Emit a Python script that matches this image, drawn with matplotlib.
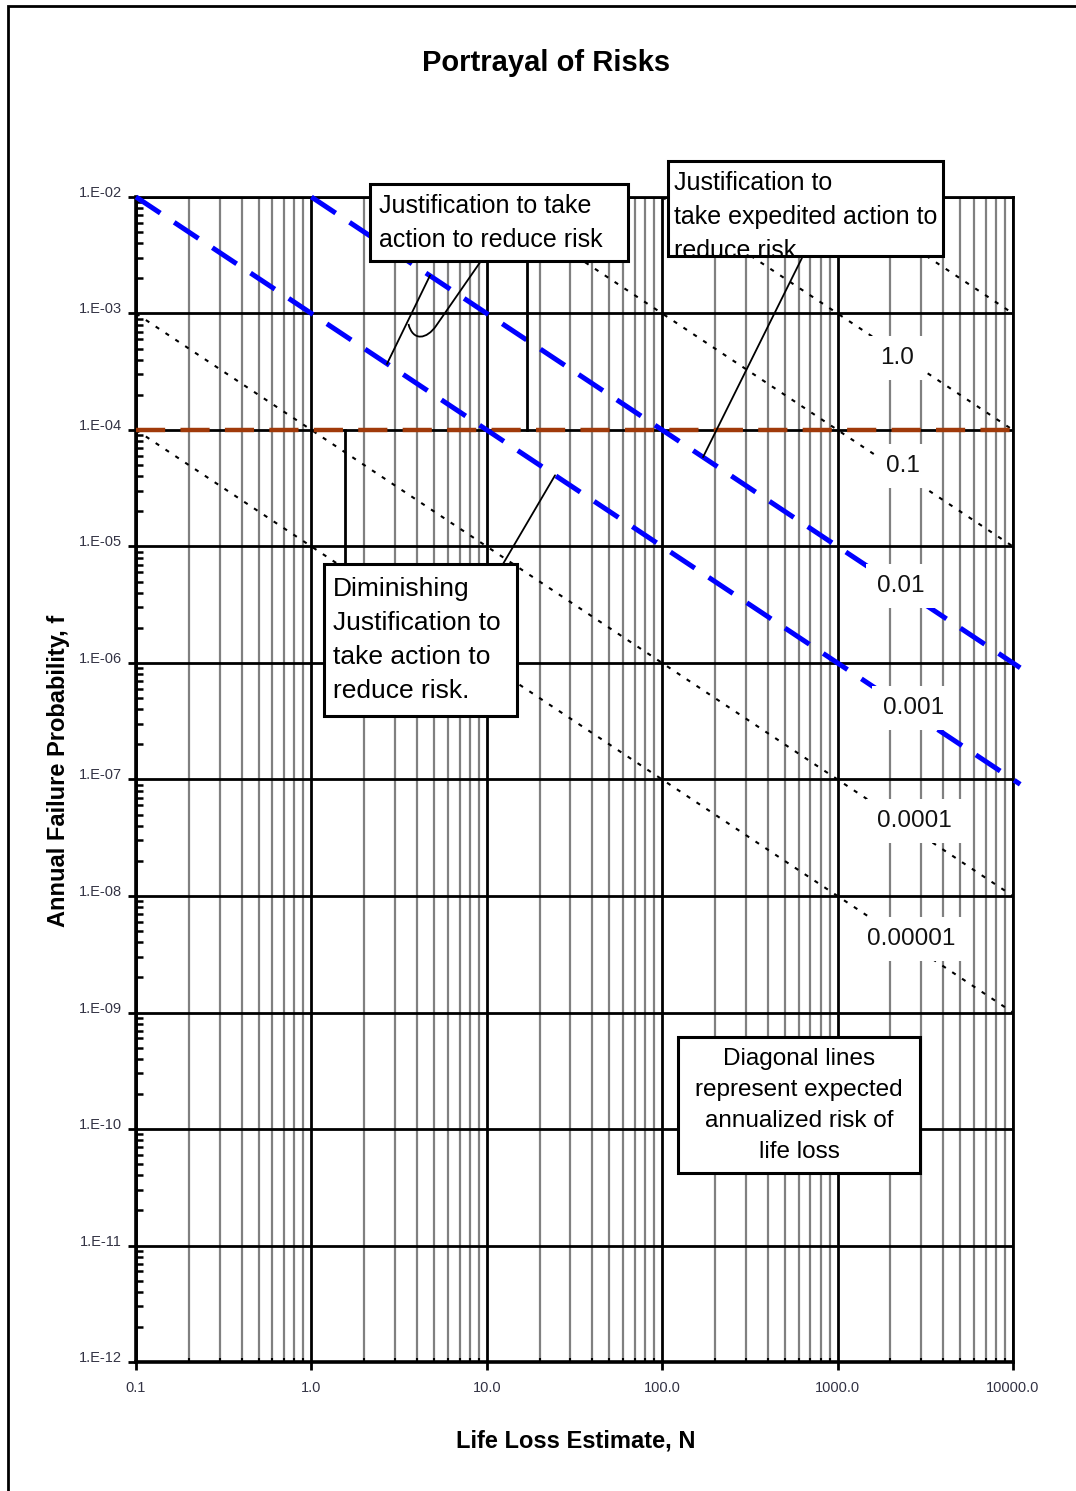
import matplotlib
matplotlib.use("Agg")
import matplotlib.pyplot as plt
from matplotlib.patches import Rectangle, PathPatch
from matplotlib.path import Path
from matplotlib.ticker import LogLocator, FixedLocator, FixedFormatter, NullFormatter
import numpy as np

plt.rcParams['font.family'] = ['Liberation Sans', 'DejaVu Sans']
plt.rcParams['lines.scale_dashes'] = False

# axis ticks
x_ticks = [0.1, 1, 10, 100, 1000, 10000]
x_tick_labels = ['0.1', '1.0', '10.0', '100.0', '1000.0', '10000.0']
y_ticks = [1e-12, 1e-11, 1e-10, 1e-9, 1e-8, 1e-7, 1e-6, 1e-5, 1e-4, 1e-3, 1e-2]
y_tick_labels = ['1.E-12', '1.E-11', '1.E-10', '1.E-09', '1.E-08', '1.E-07',
                 '1.E-06', '1.E-05', '1.E-04', '1.E-03', '1.E-02']

# expected annualized risk (f * N) lines
dotted_risks = [10.0, 1.0, 0.1, 0.0001, 0.00001]
blue_risks = [0.01, 0.001]
guideline_f = 1e-4

# labels of the risk lines and where they sit (N, f)
risk_label_text = ['1.0', '0.1', '0.01', '0.001', '0.0001', '0.00001']
risk_label_N = [2182, 2364, 2301, 2727, 2727, 2621]
risk_label_f = [4.15e-4, 4.91e-5, 4.58e-6, 4.11e-7, 4.40e-8, 4.28e-9]

x_min, x_max, x_ext = 0.1, 10000, 11000
y_min, y_max = 1e-12, 1e-2

fig = plt.figure(figsize=(10.76, 14.91), dpi=100)
ax = fig.add_axes([0.1264, 0.0865, 0.8150, 0.7814])
ax.set_xscale('log')
ax.set_yscale('log')
ax.set_xlim(x_min, x_max)
ax.set_ylim(y_min, y_max)

# grid
ax.xaxis.set_major_locator(FixedLocator(x_ticks))
ax.xaxis.set_major_formatter(FixedFormatter(x_tick_labels))
ax.xaxis.set_minor_locator(LogLocator(base=10, subs=np.arange(2, 10), numticks=20))
ax.xaxis.set_minor_formatter(NullFormatter())
ax.yaxis.set_major_locator(FixedLocator(y_ticks))
ax.yaxis.set_major_formatter(FixedFormatter(y_tick_labels))
ax.yaxis.set_minor_locator(LogLocator(base=10, subs=np.arange(2, 10), numticks=20))
ax.yaxis.set_minor_formatter(NullFormatter())

ax.set_axisbelow(True)
ax.grid(True, which='major', axis='both', color='black', lw=2.0)
ax.grid(True, which='minor', axis='x', color='#808080', lw=1.6)

ax.tick_params(which='major', direction='out', length=6, width=2, labelsize=10.5,
               labelcolor='#333344')
ax.tick_params(axis='y', which='major', pad=4)
ax.tick_params(axis='x', which='major', pad=8)
ax.tick_params(axis='y', which='minor', direction='in', length=5, width=1.8)
ax.tick_params(axis='x', which='minor', direction='in', length=3, width=1.5)
for lab in ax.get_yticklabels():
    lab.set_verticalalignment('baseline')

for side in ['left', 'bottom']:
    ax.spines[side].set_linewidth(2.6)
for side in ['top', 'right']:
    ax.spines[side].set_linewidth(2.0)

# dotted risk lines
for r in dotted_risks:
    n = np.array([max(x_min, r / y_max), x_max])
    ax.plot(n, r / n, color='black', lw=1.5, dashes=(3, 5.5), zorder=2)

# horizontal guideline at f = 1e-4
ax.plot([x_min, x_ext], [guideline_f, guideline_f], color='#a03a0a', lw=3.2,
        dashes=(21, 11), zorder=3, clip_on=False, solid_capstyle='butt')

# blue risk lines
for r in blue_risks:
    n = np.array([max(x_min, r / y_max), x_ext])
    ax.plot(n, r / n, color='#0000ff', lw=3.6, dashes=(21, 12), zorder=4, clip_on=False)

# labels on risk lines
for txt, n, f in zip(risk_label_text, risk_label_N, risk_label_f):
    ax.text(n, f, txt, fontsize=17.5, color='#111111', ha='center', va='center',
            zorder=6, bbox=dict(boxstyle='square,pad=0.45', fc='white', ec='none'))

# leader lines
line_kw = dict(color='black', lw=1.3, zorder=7)
# bracket between the two blue lines
bracket_N = [2.7, 4.74]
ax.plot(bracket_N, [blue_risks[1] / bracket_N[0], blue_risks[0] / bracket_N[1]],
        **line_kw)
# hooked callout from the first box onto the bracket
hook = Path([(0.3942, 0.9459), (0.3421, 0.8893), (0.3318, 0.8781), (0.3158, 0.8755),
             (0.3107, 0.8910)],
            [Path.MOVETO, Path.LINETO, Path.CURVE4, Path.CURVE4, Path.CURVE4])
ax.add_patch(PathPatch(hook, transform=ax.transAxes, fill=False, ec='black', lw=1.3,
                       zorder=7))

# vertical connectors to the 1e-4 guideline
ax.plot([0.4458, 0.4458], [0.9451, 0.8000], transform=ax.transAxes, color='black',
        lw=2.0, zorder=7)
ax.plot([0.2383, 0.2383], [0.8000, 0.6850], transform=ax.transAxes, color='black',
        lw=2.0, zorder=7)

arrow_kw = dict(arrowstyle='-', color='black', lw=1.3, shrinkA=0, shrinkB=0)
ax.annotate('', xy=(171, blue_risks[0] / 171), xycoords='data',
            xytext=(0.7594, 0.9476), textcoords='axes fraction', arrowprops=arrow_kw,
            zorder=7)
ax.annotate('', xy=(24.5, blue_risks[1] / 24.5), xycoords='data',
            xytext=(0.4185, 0.6850), textcoords='axes fraction', arrowprops=arrow_kw,
            zorder=7)


def text_box(x0, y0, w, h, tx, ty, text, size, ha='left'):
    face = Rectangle((x0, y0), w, h, transform=ax.transAxes, fc='white', ec='none',
                     zorder=8, clip_on=False)
    ax.add_patch(face)
    t = ax.text(tx, ty, text, transform=ax.transAxes, fontsize=size, ha=ha, va='center',
                multialignment=ha, linespacing=1.52, color='black', zorder=9)
    t.set_clip_path(face)
    edge = Rectangle((x0, y0), w, h, transform=ax.transAxes, fill=False, ec='black',
                     lw=2.2, zorder=10, clip_on=False)
    ax.add_patch(edge)


text_box(0.2668, 0.9451, 0.2942, 0.0661, 0.2771, 0.9780,
         'Justification to take\naction to reduce risk', 18)
text_box(0.6066, 0.9494, 0.3136, 0.0815, 0.6135, 0.9825,
         'Justification to\ntake expedited action to\nreduce risk', 18)
text_box(0.2144, 0.5545, 0.2200, 0.1305, 0.2246, 0.6195,
         'Diminishing\nJustification to\ntake action to\nreduce risk.', 19)
text_box(0.6180, 0.1622, 0.2760, 0.1168, 0.7560, 0.2200,
         'Diagonal lines\nrepresent expected\nannualized risk of\nlife loss', 17.5,
         ha='center')

# titles
fig.text(546 / 1076, 1 - 63 / 1491, 'Portrayal of Risks', fontsize=21,
         fontweight='bold', ha='center', va='center')
fig.text(576 / 1076, 1 - 1441 / 1491, 'Life Loss Estimate, N', fontsize=17,
         fontweight='bold', ha='center', va='center')
fig.text(59 / 1076, 1 - 771 / 1491, 'Annual Failure Probability, f', fontsize=17,
         fontweight='bold', ha='center', va='center', rotation=90)

# page frame (only left and top edges are visible)
fig.add_artist(Rectangle((8 / 1076, -0.1), 2.0, 1.1 - 6 / 1491, transform=fig.transFigure,
                         fill=False, ec='black', lw=2.0))

fig.savefig('out.png', dpi=100)
